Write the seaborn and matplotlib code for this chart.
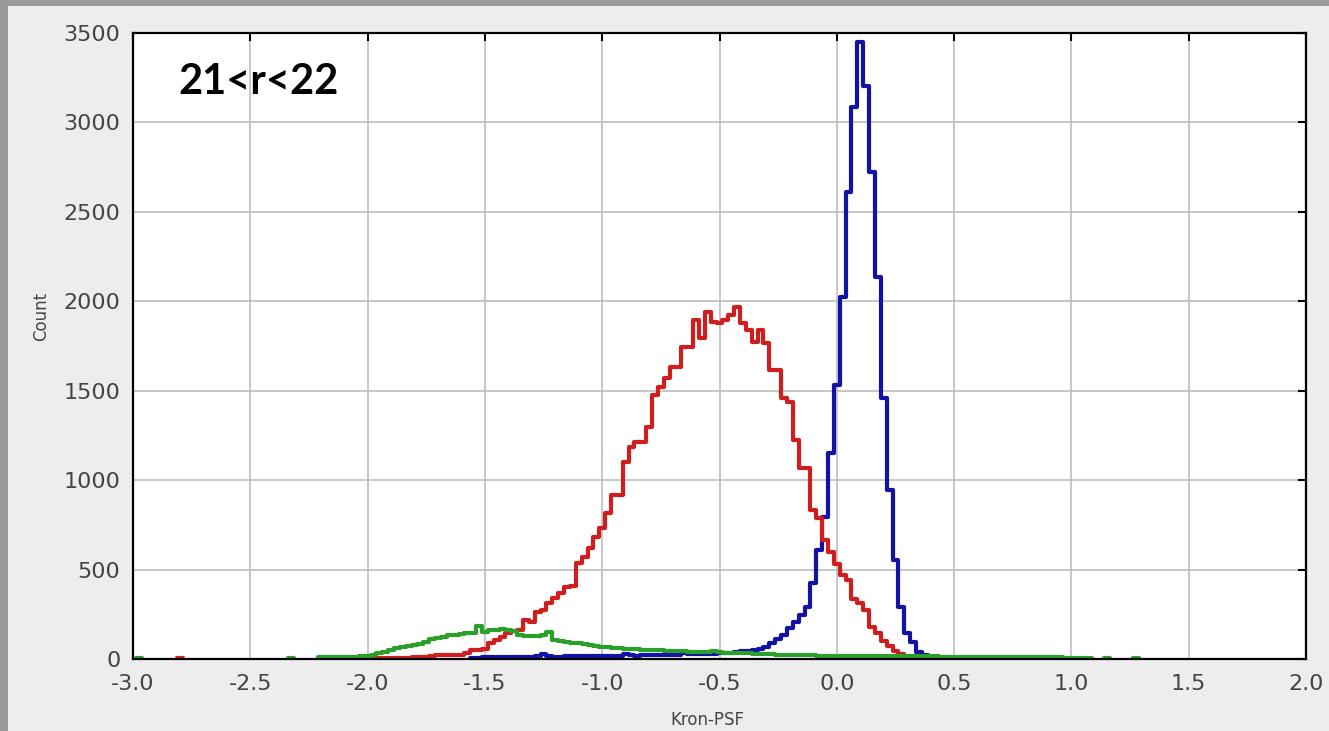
import numpy as np
import matplotlib
matplotlib.use("Agg")
import matplotlib.pyplot as plt
import seaborn as sns
from matplotlib.patches import Rectangle

BIN = 0.025

# counts per 0.025 bin, bin centres start at *_start (rows of 10 bins)
blue_start = -1.55
blue_counts = [
    5, 8, 10, 10, 10, 12, 10, 12, 12, 12,                 # -1.55
    12, 14, 30, 14, 13, 13, 14, 14, 14, 15,               # -1.30
    15, 15, 16, 16, 17, 18, 30, 20, 18, 20,               # -1.05
    20, 22, 22, 22, 24, 24, 35, 26, 28, 28,               # -0.80
    30, 30, 32, 34, 36, 40, 42, 45, 50, 58,               # -0.55
    68, 92, 112, 135, 172, 205, 248, 292, 423, 609,       # -0.30
    796, 1150, 1532, 2026, 2613, 3088, 3451, 3204, 2725, 2138,  # -0.05
    1458, 945, 553, 292, 143, 97, 41, 22, 10, 4,          # 0.20
]

red_start = -2.0
red_counts = [
    2, 3, 5, 5, 6, 6, 8, 8, 10, 10,                       # -2.00
    12, 16, 20, 22, 22, 22, 24, 35, 50, 50,               # -1.75
    55, 88, 106, 125, 143, 155, 162, 218, 209, 264,       # -1.50
    274, 311, 339, 367, 404, 410, 535, 572, 619, 684,     # -1.25
    731, 815, 917, 917, 1100, 1187, 1215, 1215, 1299, 1476,   # -1.00
    1522, 1569, 1634, 1634, 1746, 1746, 1895, 1793, 1942, 1886,  # -0.75
    1877, 1895, 1923, 1970, 1877, 1839, 1774, 1839, 1765, 1616,  # -0.50
    1616, 1458, 1439, 1224, 1066, 1066, 833, 787, 665, 600,      # -0.25
    530, 470, 442, 335, 315, 274, 181, 144, 100, 70,             # 0.00
    45, 28, 15, 7, 3,                                            # 0.25
]

green_start = -2.2
green_counts = [
    10, 12, 12, 12, 12, 12, 12, 14, 16, 22,               # -2.20
    32, 41, 50, 60, 66, 70, 78, 85, 97, 112,              # -1.95
    120, 125, 132, 134, 140, 144, 147, 184, 153, 160,     # -1.70
    162, 166, 160, 157, 134, 130, 129, 129, 132, 153,     # -1.45
    106, 100, 97, 90, 88, 82, 78, 74, 69, 68,             # -1.20
    60, 62, 58, 55, 54, 52, 50, 50, 48, 47,               # -0.95
    45, 44, 43, 41, 41, 41, 41, 44, 38, 36,               # -0.70
    35, 35, 35, 34, 30, 28, 28, 26, 24, 22,               # -0.45
    22, 21, 20, 20, 20, 19, 19, 18, 18, 18,               # -0.20
    18, 18, 17, 17, 17, 17, 16, 16, 16, 15,               # 0.05
    15, 15, 14, 14, 14, 14, 13, 13, 13, 13,               # 0.30
    13, 13, 12, 12, 12, 12, 12, 12, 12, 12,               # 0.55
    11, 11, 11, 10, 10, 9, 9, 8, 8, 4, 8, 6,              # 0.80
]

# isolated single bins
red_single_x = [-2.8]
red_single_n = [8]
green_single_x = [-2.975, -2.325, 1.15, 1.275]
green_single_n = [8, 8, 6, 6]

x_ticks = [-3.0, -2.5, -2.0, -1.5, -1.0, -0.5, 0.0, 0.5, 1.0, 1.5, 2.0]
y_ticks = [0, 500, 1000, 1500, 2000, 2500, 3000, 3500]

BLUE = "#1212a6"
RED = "#d01e1e"
GREEN = "#2a9f2a"

sns.set_theme(style="whitegrid")
plt.rcParams["font.family"] = ["DejaVu Sans"]
plt.rcParams["axes.unicode_minus"] = False

W, H = 1329, 731
fig = plt.figure(figsize=(W / 100, H / 100), dpi=100, facecolor="#9a9a9a")
fig.patches.append(Rectangle((8 / W, 0), 1 - 8 / W, 1 - 6 / H,
                             transform=fig.transFigure, facecolor="#ededed",
                             edgecolor="none", zorder=-10))
ax = fig.add_axes([133 / W, 1 - 659 / H, 1173 / W, 626 / H])
ax.set_facecolor("white")


def step_hist(start, counts, color):
    centres = start + BIN * np.arange(len(counts))
    edges = start - BIN / 2 + BIN * np.arange(len(counts) + 1)
    sns.histplot(x=centres, weights=counts, bins=edges.tolist(), element="step",
                 fill=False, color=color, linewidth=3.0, ax=ax)


step_hist(blue_start, blue_counts, BLUE)
step_hist(red_start, red_counts, RED)
for x, n in zip(red_single_x, red_single_n):
    step_hist(x, [n], RED)
step_hist(green_start, green_counts, GREEN)
for x, n in zip(green_single_x, green_single_n):
    step_hist(x, [n], GREEN)

ax.set_xlim(-3.0, 2.0)
ax.set_ylim(0, 3500)
ax.set_xticks(x_ticks)
ax.set_xticklabels([f"{t:.1f}" for t in x_ticks])
ax.set_yticks(y_ticks)

ax.grid(True, color="#bdbdbd", linewidth=1.2)
ax.set_axisbelow(True)
for s in ax.spines.values():
    s.set_visible(True)
    s.set_color("black")
    s.set_linewidth(1.6)

ax.tick_params(direction="in", length=6, width=1.5, color="black",
               top=True, right=True, labelsize=16, labelcolor="#444444")
ax.tick_params(axis="x", pad=11)
ax.tick_params(axis="y", pad=9)

ax.set_xlabel("Kron-PSF", fontsize=12, color="#444444")
ax.set_ylabel("Count", fontsize=12, color="#444444")
ax.xaxis.set_label_coords(0.49, -0.083)
ax.yaxis.set_label_coords(-0.071, 0.548)

ax.text(0.039, 0.9026, "21<r<22", transform=ax.transAxes, ha="left",
        va="baseline", fontsize=30, fontweight="bold", family=["Lato", "DejaVu Sans"],
        color="black")

fig.savefig("out.png", dpi=100, facecolor=fig.get_facecolor())
